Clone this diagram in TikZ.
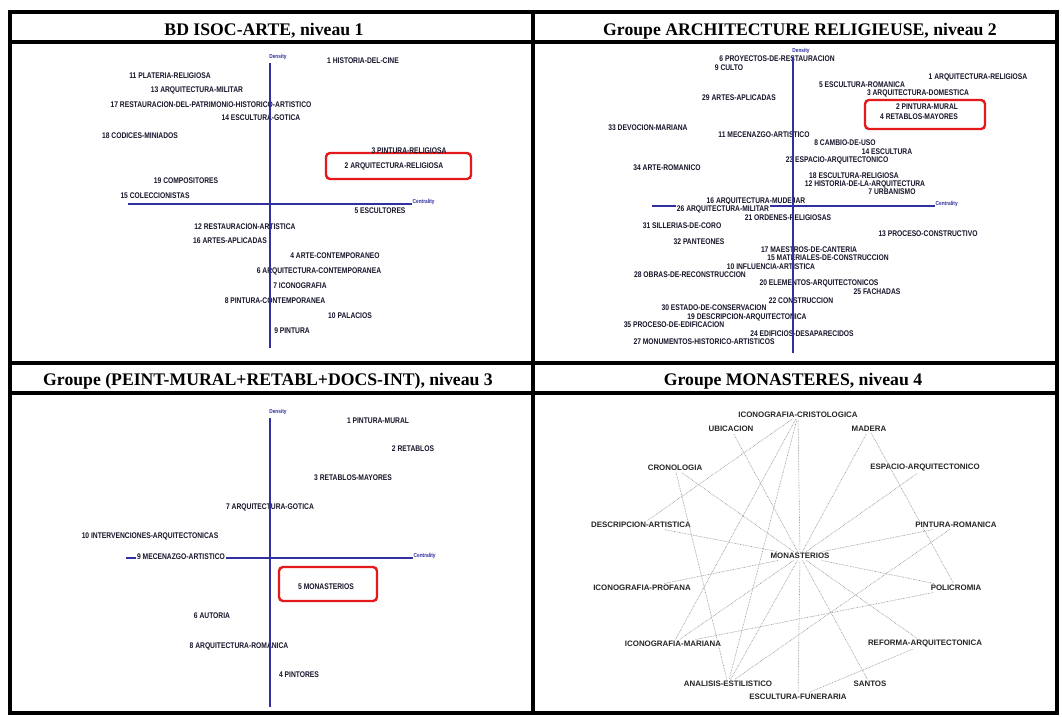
\documentclass[tikz,border=0pt]{standalone}
\usepackage{fontspec}
\setmainfont{Liberation Serif}
\newfontfamily\labfamily[FakeStretch=0.82]{Liberation Sans}
\newfontfamily\gfamily{Liberation Sans}
\definecolor{axcol}{HTML}{3030A0}
\definecolor{labcol}{HTML}{15152A}
\definecolor{boxred}{HTML}{E3191C}
\definecolor{edgecol}{HTML}{909090}
\tikzset{
 lab/.style={font=\labfamily\bfseries\fontsize{8.2}{9}\selectfont, text=labcol, inner sep=0.5pt},
 labw/.style={lab, fill=white, inner sep=1pt},
 axl/.style={font=\labfamily\bfseries\fontsize{5.8}{6}\selectfont, text=axcol, inner sep=0.5pt},
 axisline/.style={draw=axcol, line width=1.6pt},
 ttl/.style={font=\bfseries\fontsize{17.7}{20}\selectfont, anchor=base, inner sep=0pt},
 redbox/.style={draw=boxred, line width=2.4pt, rounded corners=4pt},
 gl/.style={font=\gfamily\bfseries\fontsize{7.9}{9}\selectfont, text=black!85, inner sep=1.5pt},
 ge/.style={draw=edgecol, line width=0.6pt, dash pattern=on 0.7pt off 0.9pt},
 frameline/.style={line width=3.4pt},
}
\begin{document}
\begin{tikzpicture}[x=1pt,y=-1pt]
\useasboundingbox[fill=white] (0,0) rectangle (1062,716);
% ---------- frame ----------
\draw[frameline] (10,12) rectangle (1057,713);
\draw[frameline] (10,42) -- (1057,42);
\draw[frameline] (10,363) -- (1057,363);
\draw[frameline] (10,393) -- (1057,393);
\draw[frameline] (533,12) -- (533,713);
% ---------- titles ----------
\node[ttl] (t1) at (264,35) {BD ISOC-ARTE, niveau 1};
\node[ttl] (t2) at (800,35) {Groupe ARCHITECTURE RELIGIEUSE, niveau 2};
\node[ttl] (t3) at (268,385) {Groupe (PEINT-MURAL+RETABL+DOCS-INT), niveau 3};
\node[ttl] (t4) at (793,385) {Groupe MONASTERES, niveau 4};

% ---------- panel 1 ----------
\coordinate (p1l) at (128,204);
\coordinate (p1r) at (412,204);
\coordinate (p1t) at (270,63);
\coordinate (p1b) at (270,348);
\draw[axisline] (p1l) -- (p1r);
\node[axl] (p1den) at (278,57) {Density};
\node[axl, anchor=west] (p1cen) at (412,202) {Centrality};
\draw[redbox] (326,153) rectangle (471,179);
\node[lab] (a1) at (363,61) {1 HISTORIA-DEL-CINE};
\node[lab] (a11) at (170,76) {11 PLATERIA-RELIGIOSA};
\node[lab] (a13) at (197,90) {13 ARQUITECTURA-MILITAR};
\node[lab] (a17) at (211,105) {17 RESTAURACION-DEL-PATRIMONIO-HISTORICO-ARTISTICO};
\node[lab] (a14) at (261,118) {14 ESCULTURA-GOTICA};
\node[lab] (a18) at (140,136) {18 CODICES-MINIADOS};
\node[lab] (a3) at (409,151) {3 PINTURA-RELIGIOSA};
\node[lab] (a2) at (394,166) {2 ARQUITECTURA-RELIGIOSA};
\node[lab] (a19) at (186,181) {19 COMPOSITORES};
\node[lab] (a15) at (155,196) {15 COLECCIONISTAS};
\node[lab] (a5) at (380,211) {5 ESCULTORES};
\node[lab] (a12) at (245,227) {12 RESTAURACION-ARTISTICA};
\node[lab] (a16) at (230,241) {16 ARTES-APLICADAS};
\node[lab] (a4) at (335,256) {4 ARTE-CONTEMPORANEO};
\node[lab] (a6) at (319,271) {6 ARQUITECTURA-CONTEMPORANEA};
\node[lab] (a7) at (300,286) {7 ICONOGRAFIA};
\node[lab] (a8) at (275,301) {8 PINTURA-CONTEMPORANEA};
\node[lab] (a10) at (350,316) {10 PALACIOS};
\node[lab] (a9) at (292,331) {9 PINTURA};
\draw[axisline] (p1t) -- (p1b);

% ---------- panel 2 ----------
\coordinate (p2l) at (652,206);
\coordinate (p2r) at (935,206);
\coordinate (p2t) at (793,57);
\coordinate (p2b) at (793,353);
\draw[axisline] (p2l) -- (p2r);
\node[axl] (p2den) at (801,51) {Density};
\node[axl, anchor=west] (p2cen) at (935,204) {Centrality};
\draw[redbox] (865,100) rectangle (985,129);
\node[lab] (b6) at (777,59) {6 PROYECTOS-DE-RESTAURACION};
\node[lab] (b9) at (729,68) {9 CULTO};
\node[lab] (b1) at (978,77) {1 ARQUITECTURA-RELIGIOSA};
\node[lab] (b5) at (862,85) {5 ESCULTURA-ROMANICA};
\node[lab] (b3) at (918,93) {3 ARQUITECTURA-DOMESTICA};
\node[lab] (b29) at (739,98) {29 ARTES-APLICADAS};
\node[lab] (b2) at (927,107) {2 PINTURA-MURAL};
\node[lab] (b4) at (919,117) {4 RETABLOS-MAYORES};
\node[lab] (b33) at (648,128) {33 DEVOCION-MARIANA};
\node[lab] (b11) at (764,135) {11 MECENAZGO-ARTISTICO};
\node[lab] (b8) at (845,143) {8 CAMBIO-DE-USO};
\node[lab] (b14) at (887,152) {14 ESCULTURA};
\node[lab] (b23) at (837,160) {23 ESPACIO-ARQUITECTONICO};
\node[lab] (b34) at (667,168) {34 ARTE-ROMANICO};
\node[lab] (b18) at (854,176) {18 ESCULTURA-RELIGIOSA};
\node[lab] (b12) at (865,184) {12 HISTORIA-DE-LA-ARQUITECTURA};
\node[lab] (b7) at (892,192) {7 URBANISMO};
\node[lab] (b16) at (756,201) {16 ARQUITECTURA-MUDEJAR};
\node[labw] (b26) at (723,209) {26 ARQUITECTURA-MILITAR};
\node[lab] (b21) at (788,218) {21 ORDENES-RELIGIOSAS};
\node[lab] (b31) at (682,226) {31 SILLERIAS-DE-CORO};
\node[lab] (b13) at (928,234) {13 PROCESO-CONSTRUCTIVO};
\node[lab] (b32) at (699,242) {32 PANTEONES};
\node[lab] (b17) at (809,250) {17 MAESTROS-DE-CANTERIA};
\node[lab] (b15) at (828,258) {15 MATERIALES-DE-CONSTRUCCION};
\node[lab] (b10) at (771,267) {10 INFLUENCIA-ARTISTICA};
\node[lab] (b28) at (690,275) {28 OBRAS-DE-RECONSTRUCCION};
\node[lab] (b20) at (819,283) {20 ELEMENTOS-ARQUITECTONICOS};
\node[lab] (b25) at (877,292) {25 FACHADAS};
\node[lab] (b22) at (801,301) {22 CONSTRUCCION};
\node[lab] (b30) at (714,308) {30 ESTADO-DE-CONSERVACION};
\node[lab] (b19) at (747,317) {19 DESCRIPCION-ARQUITECTONICA};
\node[lab] (b35) at (674,325) {35 PROCESO-DE-EDIFICACION};
\node[lab] (b24) at (802,334) {24 EDIFICIOS-DESAPARECIDOS};
\node[lab] (b27) at (704,342) {27 MONUMENTOS-HISTORICO-ARTISTICOS};
\draw[axisline] (p2t) -- (p2b);

% ---------- panel 3 ----------
\coordinate (p3l) at (126,558);
\coordinate (p3r) at (413,558);
\coordinate (p3t) at (270,418);
\coordinate (p3b) at (270,707);
\draw[axisline] (p3l) -- (p3r);
\node[axl] (p3den) at (278,412) {Density};
\node[axl, anchor=west] (p3cen) at (413,556) {Centrality};
\draw[redbox] (279,567) rectangle (377,601);
\node[lab] (c1) at (378,421) {1 PINTURA-MURAL};
\node[lab] (c2) at (413,449) {2 RETABLOS};
\node[lab] (c3) at (353,478) {3 RETABLOS-MAYORES};
\node[lab] (c7) at (270,507) {7 ARQUITECTURA-GOTICA};
\node[lab] (c10) at (150,536) {10 INTERVENCIONES-ARQUITECTONICAS};
\node[labw] (c9) at (181,557) {9 MECENAZGO-ARTISTICO};
\node[lab] (c5) at (326,587) {5 MONASTERIOS};
\node[lab] (c6) at (212,616) {6 AUTORIA};
\node[lab] (c8) at (239,646) {8 ARQUITECTURA-ROMANICA};
\node[lab] (c4) at (299,675) {4 PINTORES};
\draw[axisline] (p3t) -- (p3b);

% ---------- panel 4 ----------
\node[gl] (ICR) at (798,415) {ICONOGRAFIA-CRISTOLOGICA};
\node[gl] (UBI) at (731,429) {UBICACION};
\node[gl] (MAD) at (869,429) {MADERA};
\node[gl] (CRO) at (675,468) {CRONOLOGIA};
\node[gl] (ESP) at (925,468) {ESPACIO-ARQUITECTONICO};
\node[gl] (DES) at (641,525) {DESCRIPCION-ARTISTICA};
\node[gl] (PRO) at (956,525) {PINTURA-ROMANICA};
\node[gl] (MON) at (800,556) {MONASTERIOS};
\node[gl] (IPR) at (642,588) {ICONOGRAFIA-PROFANA};
\node[gl] (POL) at (956,588) {POLICROMIA};
\node[gl] (IMA) at (673,644) {ICONOGRAFIA-MARIANA};
\node[gl] (REF) at (925,644) {REFORMA-ARQUITECTONICA};
\node[gl] (ANA) at (728,684) {ANALISIS-ESTILISTICO};
\node[gl] (SAN) at (870,684) {SANTOS};
\node[gl] (ESF) at (798,697) {ESCULTURA-FUNERARIA};
\foreach \n in {ICR,UBI,CRO,DES,MAD,ESP,PRO,POL,REF,SAN,ESF,ANA,IMA,IPR}
  \draw[ge] (MON) -- (\n);
\draw[ge] (ICR) -- (DES);
\draw[ge] (ICR) -- (IMA);
\draw[ge] (ICR) -- (ANA);
\draw[ge] (CRO) -- (ANA);
\draw[ge] (MAD) -- (POL);
\draw[ge] (PRO) -- (ANA);
\draw[ge] (IMA) -- (POL);
\draw[ge] (REF) -- (ESF);
\end{tikzpicture}
\end{document}
